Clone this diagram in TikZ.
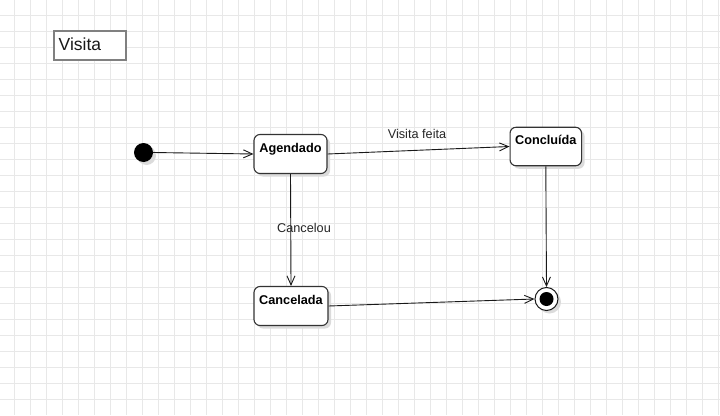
\documentclass[tikz,border=0pt]{standalone}
\usepackage{fontspec}
\setmainfont{Liberation Sans}
\usetikzlibrary{arrows.meta,shadows}
\begin{document}
\begin{tikzpicture}[x=1pt,y=-1pt,
  shad/.style={drop shadow={shadow xshift=3pt,shadow yshift=-3pt,fill=black!14,opacity=1}},
  statebox/.style={draw=black!80,line width=1.1pt,rounded corners=6pt,fill=white,shad,inner sep=0pt},
  lbl/.style={font=\fontsize{12.7}{15}\selectfont\bfseries,inner sep=0pt},
  elbl/.style={font=\fontsize{12.7}{15}\selectfont,inner sep=0pt,text=black!85},
  arr/.style={draw=black!90,line width=0.9pt,-{Straight Barb[length=9pt,width=8pt,line width=0.9pt]}}]
\useasboundingbox (0,0) rectangle (720,415);
\fill[white] (0,0) rectangle (720,415);
\foreach \x in {14,30,...,718} \draw[black!9,line width=0.8pt] (\x,0) -- (\x,415);
\foreach \y in {15.5,31.5,...,415} \draw[black!9,line width=0.8pt] (0,\y) -- (720,\y);
% title
\node[draw=black!50,line width=1.6pt,fill=white,minimum width=72pt,minimum height=29pt,inner sep=0pt] (title) at (90,45.5) {};
\node[font=\fontsize{17.5}{20}\selectfont,anchor=base west,inner sep=0pt,text=black!90] (titlet) at (58.5,50.5) {Visita};
% initial
\node[circle,fill=black,minimum size=19pt,inner sep=0pt,shad] (ini) at (143.5,152.5) {};
% states
\node[statebox,minimum width=73pt,minimum height=39pt] (ag) at (290.5,154) {};
\node[lbl,anchor=base] (agt) at (290.5,152.3) {Agendado};
\node[statebox,minimum width=71.5pt,minimum height=38.5pt] (co) at (545.8,146.5) {};
\node[lbl,anchor=base] (cot) at (545.8,144.3) {Concluída};
\node[statebox,minimum width=74pt,minimum height=39pt] (ca) at (291,306) {};
\node[lbl,anchor=base] (cat) at (291,304.3) {Cancelada};
% final
\node[circle,draw=black!90,line width=1pt,fill=white,minimum size=23pt,inner sep=0pt,shad] (fin) at (546.5,299) {};
\node[circle,fill=black,minimum size=14pt,inner sep=0pt] (fint) at (fin) {};
% edges
\draw[arr] (ini.east) -- (ag.west);
\draw[arr] (ag.east) -- (co.west);
\draw[arr] (ag.south) -- (ca.north);
\draw[arr] (co.south) -- (fin.north);
\draw[arr] (ca.east) -- (fin.west);
\node[elbl] (l1) at (417,134) {Visita feita};
\node[elbl] (l2) at (304,228) {Cancelou};
\end{tikzpicture}
\end{document}
